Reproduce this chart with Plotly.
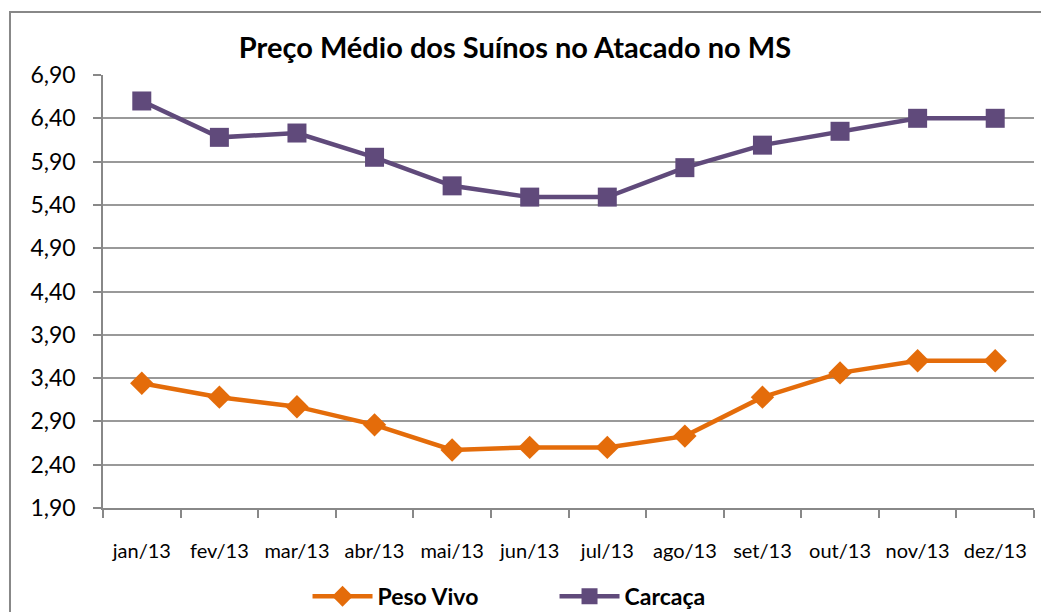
import plotly.graph_objects as go

months = ["jan/13", "fev/13", "mar/13", "abr/13", "mai/13", "jun/13",
          "jul/13", "ago/13", "set/13", "out/13", "nov/13", "dez/13"]
peso_vivo = [3.34, 3.18, 3.07, 2.86, 2.57, 2.60, 2.60, 2.73, 3.18, 3.46, 3.60, 3.60]
carcaca = [6.60, 6.18, 6.23, 5.95, 5.62, 5.49, 5.49, 5.83, 6.09, 6.25, 6.40, 6.40]
y_ticks = [1.90, 2.40, 2.90, 3.40, 3.90, 4.40, 4.90, 5.40, 5.90, 6.40, 6.90]

FONT = "Lato"
fig = go.Figure()
fig.add_trace(go.Scatter(
    x=months, y=peso_vivo, name="<b>Peso Vivo</b>", mode="lines+markers",
    line=dict(color="#E46C0A", width=4.5),
    marker=dict(symbol="diamond", size=18, color="#E46C0A"),
))
fig.add_trace(go.Scatter(
    x=months, y=carcaca, name="<b>Carcaça</b>", mode="lines+markers",
    line=dict(color="#604A7B", width=4.5),
    marker=dict(symbol="square", size=19, color="#604A7B"),
))

fig.update_layout(
    width=1041, height=604,
    margin=dict(l=95, r=15, t=67, b=104, autoexpand=False),
    paper_bgcolor="white", plot_bgcolor="white",
    separators=",.",
    font=dict(family=FONT, color="black"),
    title=dict(text="<b>Preço Médio dos Suínos no Atacado no MS</b>",
               x=0.487, xanchor="center", y=0.934, yanchor="middle",
               font=dict(family=FONT, size=29, color="black")),
    showlegend=True,
    legend=dict(orientation="h", xref="container", x=0.525, xanchor="center",
                yref="container", y=0.026, yanchor="middle",
                font=dict(family=FONT, size=23, color="black"),
                entrywidth=172, itemwidth=60, traceorder="normal"),
    xaxis=dict(type="category", showgrid=False, showline=True, linecolor="#888888",
               linewidth=1.5, ticks="outside", tickson="boundaries", ticklen=8,
               tickcolor="#888888", tickwidth=1.5, ticklabelstandoff=24,
               tickangle=0,
               tickfont=dict(family=FONT, size=20, color="black"),
               range=[-0.5, 11.5], automargin=False),
    yaxis=dict(range=[1.90, 6.90], tickvals=y_ticks, tickformat=".2f",
               showgrid=True, gridcolor="#999999", gridwidth=1.5,
               showline=True, linecolor="#888888", linewidth=1.5,
               ticks="outside", ticklen=8, tickcolor="#888888", tickwidth=1.5,
               ticklabelstandoff=13,
               tickfont=dict(family=FONT, size=23, color="black"),
               zeroline=False, automargin=False),
    shapes=[dict(type="rect", xref="paper", yref="paper",
                 x0=-0.0999, x1=1.05, y0=-0.4, y1=1.1455,
                 line=dict(color="#888888", width=2), fillcolor="rgba(0,0,0,0)")],
)

fig.write_html("out.html")
